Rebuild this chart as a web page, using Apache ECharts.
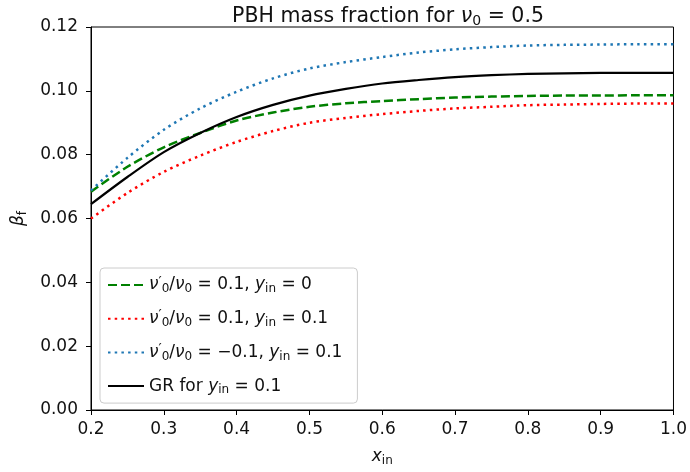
<!DOCTYPE html>
<html>
<head>
<meta charset="utf-8">
<script src="https://cdn.jsdelivr.net/npm/echarts@6/dist/echarts.min.js"></script>
<style>
  html, body { margin: 0; padding: 0; background: #fff; }
  #chart { width: 690px; height: 472px; }
</style>
</head>
<body>
<div id="chart"></div>
<script>
const xIn = [0.2, 0.25, 0.3, 0.35, 0.4, 0.45, 0.5, 0.55, 0.6, 0.65, 0.7, 0.75, 0.8, 0.85, 0.9, 0.95, 1.0];

// beta_f for each case
const greenVals = [0.0684, 0.0762, 0.0823, 0.0868, 0.0907, 0.0932, 0.0950, 0.0961, 0.0968, 0.0974, 0.0979, 0.0982, 0.0984, 0.0985, 0.0985, 0.0986, 0.0986];
const redVals   = [0.0600, 0.0680, 0.0746, 0.0797, 0.0840, 0.0874, 0.0900, 0.0915, 0.0927, 0.0937, 0.0945, 0.0950, 0.0955, 0.0957, 0.0959, 0.0960, 0.0960];
const blueVals  = [0.0688, 0.0790, 0.0878, 0.0945, 0.0997, 0.1039, 0.1070, 0.1090, 0.1106, 0.1120, 0.1130, 0.1137, 0.1142, 0.1144, 0.1145, 0.1146, 0.1146];
const grVals    = [0.0645, 0.0730, 0.0808, 0.0868, 0.0918, 0.0956, 0.0985, 0.1006, 0.1023, 0.1034, 0.1043, 0.1049, 0.1053, 0.1055, 0.1056, 0.1056, 0.1056];

const seriesNames = ['green', 'red', 'blue', 'gr'];
const legendLabels = {
  green: '{i|ν}{sup|′}{sub|0}/{i|ν}{sub|0} = 0.1, {i|y}{sub|in} = 0',
  red:   '{i|ν}{sup|′}{sub|0}/{i|ν}{sub|0} = 0.1, {i|y}{sub|in} = 0.1',
  blue:  '{i|ν}{sup|′}{sub|0}/{i|ν}{sub|0} = −0.1, {i|y}{sub|in} = 0.1',
  gr:    'GR for {i|y}{sub|in} = 0.1'
};

const font = 'DejaVu Sans';
const fs = 17;
const rich = {
  i: { fontFamily: font, fontStyle: 'italic', fontSize: fs, color: '#111' },
  sub: { fontFamily: font, fontSize: 12, color: '#111', padding: [8, 0, 0, 0] },
  sup: { fontFamily: font, fontSize: 14, color: '#111', padding: [0, 0, 6, 0] }
};

function pairs(vals) {
  return xIn.map((x, k) => [x, vals[k]]);
}

const chart = echarts.init(document.getElementById('chart'), null, { renderer: 'canvas' });

const option = {
  animation: false,
  backgroundColor: '#fff',
  textStyle: { fontFamily: font },
  title: {
    text: 'PBH mass fraction for {i|ν}{sub|0} = 0.5',
    left: 383,
    top: 0,
    textAlign: 'center',
    textStyle: {
      fontFamily: font, fontSize: 20.5, fontWeight: 'normal', color: '#111',
      rich: {
        i: { fontFamily: font, fontStyle: 'italic', fontSize: 20.5, color: '#111' },
        sub: { fontFamily: font, fontSize: 14, color: '#111', padding: [9, 0, 0, 0] }
      }
    }
  },
  grid: {
    left: 91, right: 15, top: 27, bottom: 59,
    show: true, borderColor: '#000', borderWidth: 1, backgroundColor: 'transparent'
  },
  legend: {
    orient: 'vertical',
    left: 100,
    top: 268,
    data: seriesNames,
    formatter: name => legendLabels[name],
    itemWidth: 36,
    itemHeight: 14,
    itemGap: 13.7,
    itemTextGap: 14,
    padding: [7, 15, 7, 7],
    backgroundColor: 'rgba(255,255,255,0.8)',
    borderColor: '#cccccc',
    borderWidth: 1,
    borderRadius: 4,
    itemStyle: { opacity: 0 },
    lineStyle: { opacity: 1 },
    textStyle: { fontFamily: font, fontSize: fs, color: '#111', lineHeight: 20, rich: rich }
  },
  xAxis: {
    type: 'value',
    min: 0.2, max: 1.0, interval: 0.1,
    name: '{i|x}{sub|in}',
    nameLocation: 'middle',
    nameGap: 37,
    nameTextStyle: { fontFamily: font, fontSize: fs, color: '#111', rich: rich },
    axisLine: { show: true, onZero: false, lineStyle: { color: '#000', width: 1 } },
    axisTick: { show: true, inside: false, length: 5, lineStyle: { color: '#000' } },
    axisLabel: { fontFamily: font, fontSize: fs, color: '#111', margin: 11, formatter: v => v.toFixed(1) },
    splitLine: { show: false }
  },
  yAxis: {
    type: 'value',
    min: 0, max: 0.12, interval: 0.02,
    name: '{i|β}{sub|f}',
    nameLocation: 'middle',
    nameGap: 62,
    nameRotate: 90,
    nameTextStyle: { fontFamily: font, fontSize: fs, color: '#111', rich: rich },
    axisLine: { show: true, lineStyle: { color: '#000', width: 1 } },
    axisTick: { show: true, inside: false, length: 5, lineStyle: { color: '#000' } },
    axisLabel: { fontFamily: font, fontSize: fs, color: '#111', margin: 13, formatter: v => v.toFixed(2) },
    splitLine: { show: false }
  },
  series: [
    {
      name: 'green', type: 'line', data: pairs(greenVals), smooth: 0.3,
      symbol: 'none', showSymbol: false, color: '#008000',
      lineStyle: { color: '#008000', width: 2.5, type: [9, 4] }
    },
    {
      name: 'red', type: 'line', data: pairs(redVals), smooth: 0.3,
      symbol: 'none', showSymbol: false, color: '#ff0000',
      lineStyle: { color: '#ff0000', width: 2.5, type: [2.5, 4.2] }
    },
    {
      name: 'blue', type: 'line', data: pairs(blueVals), smooth: 0.3,
      symbol: 'none', showSymbol: false, color: '#1f77b4',
      lineStyle: { color: '#1f77b4', width: 2.5, type: [2.5, 4.2] }
    },
    {
      name: 'gr', type: 'line', data: pairs(grVals), smooth: 0.3,
      symbol: 'none', showSymbol: false, color: '#000000',
      lineStyle: { color: '#000000', width: 2.2, type: 'solid' }
    }
  ]
};

chart.setOption(option);
</script>
</body>
</html>
